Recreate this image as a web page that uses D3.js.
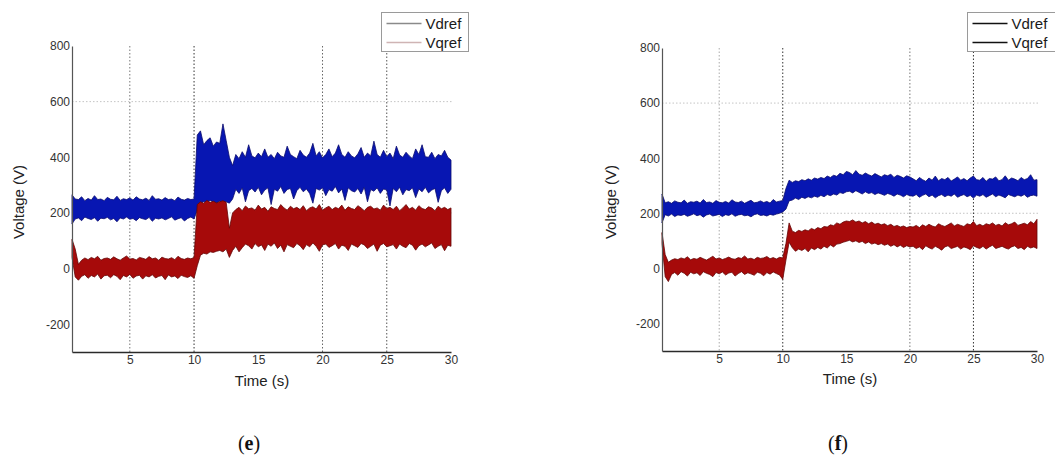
<!DOCTYPE html>
<html>
<head>
<meta charset="utf-8">
<script src="https://cdn.jsdelivr.net/npm/d3@7"></script>
<style>
  body { margin: 0; background: #fff; }
  text { font-family: Arial, "Liberation Sans", sans-serif; }
</style>
</head>
<body>
<svg id="fig" width="1055" height="459"></svg>
<script>
// ---- axis ticks, grid and labels ----
const tickX = [5, 10, 15, 20, 25, 30];
const tickY = [-200, 0, 200, 400, 600, 800];
const gridX = [5, 10, 20, 25];
const gridY = [200, 600];
const seriesNames = ["Vdref", "Vqref"];
const captions = ["e", "f"];
const xTitle = "Time (s)";
const yTitle = "Voltage (V)";

// ---- sampled envelopes (min / max of each noisy signal), one sample every 0.25 s from 0.5 s ----
const sampleStart = 0.5, sampleStep = 0.25;

// panel (e)
const eVdHi = [265,
  250,248,258,244,252,246,262,248,250,244, 256,249,247,260,245,251,248,254,246,258,
  250,247,253,245,262,249,251,246,255,248, 250,244,257,249,246,252,248,250,
  480,
  495,445,460,470,440,455,450,520,460,
  400, 370,
  410,395,420,400,445,405,398,415,402,430, 400,410,395,418,405,400,440,410,402,395,
  425,408,400,415,450,405,420,398,410,430, 402,415,445,410,400,420,405,398,412,435,
  400,415,405,458,410,400,425,402,415,395, 440,408,400,418,405,395,430,410,445,402,
  400,418,395,410,405,425,400,390];
const eVdLo = [160,
  178,182,172,185,180,176,183,170,181,179, 184,175,180,168,182,178,185,177,180,172,
  183,179,176,184,170,181,178,182,175,180, 186,174,179,183,171,180,185,178,
  210,
  235,240,238,245,240,236,242,238,240,
  235, 250,
  285,270,290,240,280,288,275,292,265,282, 290,230,285,278,295,270,284,288,250,280,
  292,276,286,270,235,288,282,290,262,284, 278,295,272,286,245,290,280,275,288,268,
  292,240,284,278,290,270,286,282,225,288, 276,292,265,284,280,290,255,286,276,292,
  272,282,288,238,280,290,270,285];
const eVqHi = [105,
  70,15,30,38,32,40,35,44,30,36, 38,33,42,35,30,38,45,34,36,31,
  40,37,33,43,35,38,30,41,36,34, 39,32,44,36,33,38,35,40,
  230,
  240,235,245,238,242,236,240,244,238,
  145, 200,
  212,220,208,225,215,218,210,228,214,220, 206,222,216,212,230,218,210,224,215,220,
  212,226,208,218,222,214,230,210,218,224, 212,220,215,228,210,222,216,212,226,218,
  208,220,224,214,218,210,228,216,220,212, 224,208,218,230,214,220,210,226,216,212,
  222,218,208,224,215,220,212,218];
const eVqLo = [40,
  -30,-42,-28,-22,-35,-25,-30,-20,-38,-26, -24,-33,-22,-28,-40,-25,-30,-21,-35,-27,
  -24,-38,-26,-30,-22,-34,-28,-25,-40,-23, -30,-27,-36,-24,-29,-32,-26,-35,
  10,
  48,55,52,60,58,62,65,60,70,
  40, 65,
  80,60,75,88,82,70,90,78,85,65, 88,80,92,72,84,60,86,80,75,90,
  82,68,86,78,92,80,62,85,88,76, 82,90,70,84,80,65,88,82,76,90,
  85,72,80,88,62,84,90,78,82,86, 70,88,80,75,90,84,66,82,88,78,
  85,92,72,80,86,64,84,80];

// panel (f)
const fVdHi = [270,
  238,242,236,245,240,238,248,236,242,240, 244,237,250,239,241,236,246,240,238,243,
  237,249,241,239,244,236,242,247,238,240, 245,239,243,237,250,241,244,246,
  290, 320,
  312,318,315,322,318,325,320,328,324,330, 326,335,330,338,334,345,340,352,
  348,340,355,342,338,346,340,335,344,338, 332,340,336,342,330,338,334,328,336,332,
  325,318,330,322,316,328,320,335,318,326, 322,330,317,324,332,320,326,318,328,335,
  322,320,330,316,326,324,332,318,322,336, 320,328,324,318,330,322,326,340,320,322];
const fVdLo = [165,
  195,190,197,188,194,192,196,189,193,198, 191,195,186,194,197,190,193,196,188,195,
  192,198,189,194,196,191,193,187,195,198, 192,194,190,196,193,197,200,205,
  215, 245,
  248,255,250,258,254,260,256,262,258,265, 260,268,264,270,266,275,272,278,
  280,274,282,276,270,278,272,275,268,274, 270,265,272,268,262,270,266,260,268,264,
  262,268,258,265,270,260,266,256,264,268, 260,266,262,270,258,264,268,260,265,255,
  266,262,268,258,264,270,260,266,262,256, 268,264,260,266,262,268,258,264,266,262];
const fVqHi = [130,
  50,22,30,35,32,38,34,42,31,36, 33,40,35,30,37,44,34,38,32,36,
  41,35,33,39,36,45,34,37,32,40, 36,38,43,35,39,34,40,38,
  90, 165,
  135,130,138,134,140,136,145,140,148,144, 152,150,158,155,165,160,168,172,
  170,176,168,172,165,170,162,168,160,164, 158,162,155,160,152,156,150,154,148,152,
  150,156,148,158,152,160,154,150,162,156, 152,158,165,154,160,156,152,162,158,170,
  155,160,154,162,158,165,156,160,154,166, 158,162,168,156,160,164,158,170,162,178];
const fVqLo = [90,
  -30,-48,-22,-15,-25,-12,-18,-28,-14,-20, -16,-26,-12,-18,-22,-30,-15,-20,-13,-24,
  -17,-14,-28,-19,-12,-22,-16,-20,-25,-14, -18,-27,-15,-21,-13,-19,-24,-40,
  30, 95,
  75,62,70,65,72,60,74,68,76,70, 80,74,85,78,88,90,95,98,
  102,96,100,94,98,90,96,88,92,86, 90,84,88,80,86,78,84,76,82,78,
  80,72,78,68,82,75,70,80,74,66, 78,82,72,76,80,70,78,74,68,82,
  76,72,80,70,78,84,72,76,80,74, 70,78,82,72,76,68,80,74,78,72];

const time = d3.range(eVdHi.length).map(i => sampleStart + i * sampleStep);

// ---- drawing ----
const svg = d3.select("#fig");
const colors = { d: "#0716b2", dEdge: "#0b0d6e", q: "#a60a0a", qEdge: "#650606" };
const plainNumber = d => String(d);   // hyphen-minus for negative ticks

function drawPanel(cfg) {
  const g = svg.append("g");
  const x = d3.scaleLinear().domain([0.5, 30]).range([cfg.left, cfg.right]);
  const y = d3.scaleLinear().domain([-300, 800]).range([cfg.bottom, cfg.top]);

  // grid
  g.append("g").selectAll("line").data(gridY).join("line")
    .attr("x1", cfg.left).attr("x2", cfg.right + 1)
    .attr("y1", d => y(d)).attr("y2", d => y(d))
    .attr("stroke", "#c4c4c4").attr("stroke-width", 1).attr("stroke-dasharray", "1.5,2");
  g.append("g").selectAll("line").data(gridX).join("line")
    .attr("x1", d => x(d)).attr("x2", d => x(d))
    .attr("y1", cfg.top).attr("y2", cfg.bottom)
    .attr("stroke", d => cfg.gridShade[d] || "#666").attr("stroke-width", 1)
    .attr("stroke-dasharray", "1.5,2");

  // signal bands
  const idx = d3.range(time.length);
  const band = (lo, hi) => d3.area()
    .x(i => x(time[i])).y0(i => y(lo[i])).y1(i => y(hi[i]))(idx);
  g.append("path").attr("d", band(cfg.vdLo, cfg.vdHi))
    .attr("fill", colors.d).attr("stroke", colors.dEdge).attr("stroke-width", 0.8);
  g.append("path").attr("d", band(cfg.vqLo, cfg.vqHi))
    .attr("fill", colors.q).attr("stroke", colors.qEdge).attr("stroke-width", 0.8);

  // axes
  const ax = g.append("g").attr("transform", `translate(0,${cfg.bottom})`)
    .call(d3.axisBottom(x).tickValues(tickX).tickFormat(plainNumber)
      .tickSize(0).tickSizeOuter(0).tickPadding(3));
  ax.select(".domain").attr("stroke", "#2a2a2a").attr("stroke-width", 1.6);
  ax.selectAll("text").attr("font-size", 12).attr("fill", "#333")
    .attr("font-family", "Arial, 'Liberation Sans', sans-serif");

  const ay = g.append("g").attr("transform", `translate(${cfg.left},0)`)
    .call(d3.axisLeft(y).tickValues(tickY).tickFormat(plainNumber)
      .tickSize(0).tickSizeOuter(0).tickPadding(2));
  ay.select(".domain").attr("stroke", "#555").attr("stroke-width", 1.2);
  ay.selectAll("text").attr("font-size", 12).attr("fill", "#333")
    .attr("font-family", "Arial, 'Liberation Sans', sans-serif");

  // axis titles
  g.append("text").attr("x", cfg.xTitleX).attr("y", cfg.xTitleY)
    .attr("text-anchor", "middle").attr("font-size", 15).attr("fill", "#222").text(xTitle);
  g.append("text").attr("transform", `translate(${cfg.yTitleX},${cfg.yTitleY}) rotate(-90)`)
    .attr("text-anchor", "middle").attr("font-size", 15).attr("fill", "#222").text(yTitle);

  // legend
  const lg = g.append("g").attr("transform", `translate(${cfg.legX},${cfg.legY})`);
  lg.append("rect").attr("width", cfg.legW).attr("height", 39)
    .attr("fill", "#fff").attr("stroke", "#9a9a9a").attr("stroke-width", 1);
  seriesNames.forEach((name, k) => {
    const ly = 11 + k * 19;
    lg.append("line").attr("x1", 5).attr("x2", 40).attr("y1", ly).attr("y2", ly)
      .attr("stroke", cfg.legLine[k]).attr("stroke-width", 1.3);
    lg.append("text").attr("x", 44).attr("y", ly + 5.5)
      .attr("font-size", 15).attr("fill", "#1a1a1a").text(name);
  });

  // caption
  const cap = svg.append("text").attr("x", cfg.capX).attr("y", 450)
    .attr("text-anchor", "middle").attr("font-size", 20)
    .style("font-family", "'Liberation Serif', 'Times New Roman', serif").attr("fill", "#111");
  cap.append("tspan").text("(");
  cap.append("tspan").attr("font-weight", "bold").text(cfg.caption);
  cap.append("tspan").text(")");
}

drawPanel({
  left: 72, right: 451, top: 46, bottom: 352,
  vdHi: eVdHi, vdLo: eVdLo, vqHi: eVqHi, vqLo: eVqLo,
  gridShade: { 5: "#777", 10: "#333", 20: "#666", 25: "#555" },
  xTitleX: 262, xTitleY: 386, yTitleX: 24, yTitleY: 202,
  legX: 381.5, legY: 12.5, legW: 87, legLine: ["#8a8a8a", "#cfb4b4"],
  capX: 249, caption: captions[0]
});

drawPanel({
  left: 662, right: 1037, top: 48, bottom: 351,
  vdHi: fVdHi, vdLo: fVdLo, vqHi: fVqHi, vqLo: fVqLo,
  gridShade: { 5: "#aaa", 10: "#333", 20: "#777", 25: "#333" },
  xTitleX: 850, xTitleY: 384, yTitleX: 616, yTitleY: 202,
  legX: 967.5, legY: 12.5, legW: 95, legLine: ["#111", "#111"],
  capX: 838, caption: captions[1]
});
</script>
</body>
</html>
